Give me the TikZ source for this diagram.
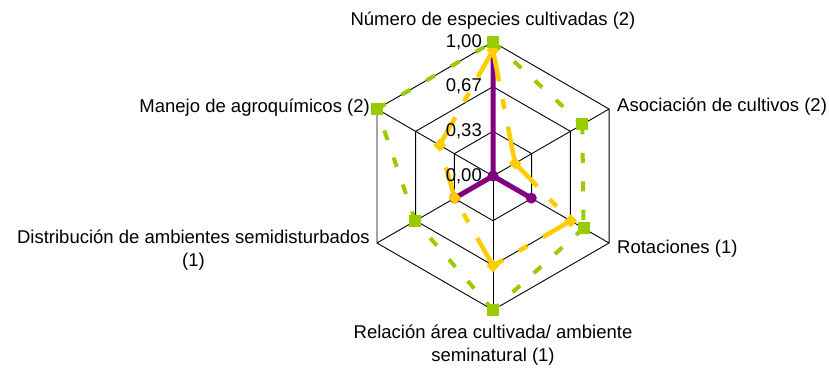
\documentclass[tikz,border=0pt]{standalone}
\usepackage{fontspec}
\setmainfont{Liberation Sans}
\usetikzlibrary{calc,shapes.geometric}
\definecolor{serpurple}{RGB}{128,0,128}
\definecolor{sergold}{RGB}{255,204,0}
\definecolor{serlime}{RGB}{153,204,0}
\tikzset{
  gridline/.style={draw=black,line width=0.9pt},
  purpleline/.style={draw=serpurple,line width=5pt,line join=round},
  goldline/.style={draw=sergold,line width=4.5pt,dash pattern=on 32pt off 18pt on 10pt off 18pt},
  limeline/.style={draw=serlime,line width=4pt,dash pattern=on 10pt off 18.5pt},
  purplemark/.style={circle,fill=serpurple,minimum size=11pt,inner sep=0pt},
  goldmark/.style={diamond,fill=sergold,minimum width=13pt,minimum height=13pt,inner sep=0pt},
  limemark/.style={rectangle,fill=serlime,minimum size=12pt,inner sep=0pt},
  ticklabel/.style={anchor=base east,inner sep=0pt},
  catlabel/.style={inner sep=0pt,align=center}
}
\begin{document}
\begin{tikzpicture}[x=1pt,y=1pt,font=\fontsize{18.5}{22.5}\selectfont]
\useasboundingbox (0,0) rectangle (829,-367);
\coordinate (c) at (493,-176);
% outer vertices
\foreach \i/\a in {1/90,2/30,3/-30,4/-90,5/-150,6/150}{
  \coordinate (a\i) at ($(c)+(\a:134)$);
}
% grid hexagons
\foreach \r in {44.667,89.333,134}{
  \draw[gridline] ($(c)+(90:\r)$) -- ($(c)+(30:\r)$) -- ($(c)+(-30:\r)$) -- ($(c)+(-90:\r)$) -- ($(c)+(-150:\r)$) -- ($(c)+(150:\r)$) -- cycle;
}
\foreach \i in {1,...,6}{ \draw[gridline] (c) -- (a\i); }
% data coordinates
\foreach \i/\a/\p/\g/\l in {1/90/1/0.94/1, 2/30/0/0.19/0.77, 3/-30/0.33/0.67/0.78, 4/-90/0/0.67/1, 5/-150/0.33/0.33/0.67, 6/150/0/0.46/1}{
  \coordinate (p\i) at ($(c)+(\a:134*\p)$);
  \coordinate (y\i) at ($(c)+(\a:134*\g)$);
  \coordinate (g\i) at ($(c)+(\a:134*\l)$);
}
% purple series
\draw[purpleline] (p1) -- (p2) -- (p3) -- (p4) -- (p5) -- (p6) -- cycle;
\node[purplemark] (pm0) at (c) {};
\node[purplemark] (pm1) at (p1) {};
\node[purplemark] (pm3) at (p3) {};
\node[purplemark] (pm5) at (p5) {};
% gold series
\draw[goldline] (y1) -- (y2);
\draw[goldline] (y2) -- (y3);
\draw[goldline] (y3) -- (y4);
\draw[goldline] (y4) -- (y5);
\draw[goldline] (y5) -- (y6);
\draw[goldline] (y6) -- (y1);
\foreach \i in {1,...,6}{ \node[goldmark] (ym\i) at (y\i) {}; }
% lime series
\draw[limeline] (g1) -- (g2);
\draw[limeline] (g2) -- (g3);
\draw[limeline] (g3) -- (g4);
\draw[limeline] (g4) -- (g5);
\draw[limeline] (g5) -- (g6);
\draw[limeline] (g6) -- (g1);
\foreach \i in {1,...,6}{ \node[limemark] (gm\i) at (g\i) {}; }
% tick labels
\node[ticklabel] (t100) at (482,-47) {1,00};
\node[ticklabel] (t067) at (482,-91.7) {0,67};
\node[ticklabel] (t033) at (482,-136.3) {0,33};
\node[ticklabel] (t000) at (482,-181) {0,00};
% category labels
\node[catlabel,anchor=base] (l1) at (493,-25) {Número de especies cultivadas (2)};
\node[catlabel,anchor=base west] (l2) at (617,-111.5) {Asociación de cultivos (2)};
\node[catlabel,anchor=base west] (l3) at (617,-253) {Rotaciones (1)};
\node[catlabel,anchor=base] (l4) at (493,-361) {Relación área cultivada/ ambiente\\seminatural (1)};
\node[catlabel,anchor=base east] (l5) at (370,-266) {Distribución de ambientes semidisturbados\\(1)};
\node[catlabel,anchor=base east] (l6) at (370,-112) {Manejo de agroquímicos (2)};
\end{tikzpicture}
\end{document}
